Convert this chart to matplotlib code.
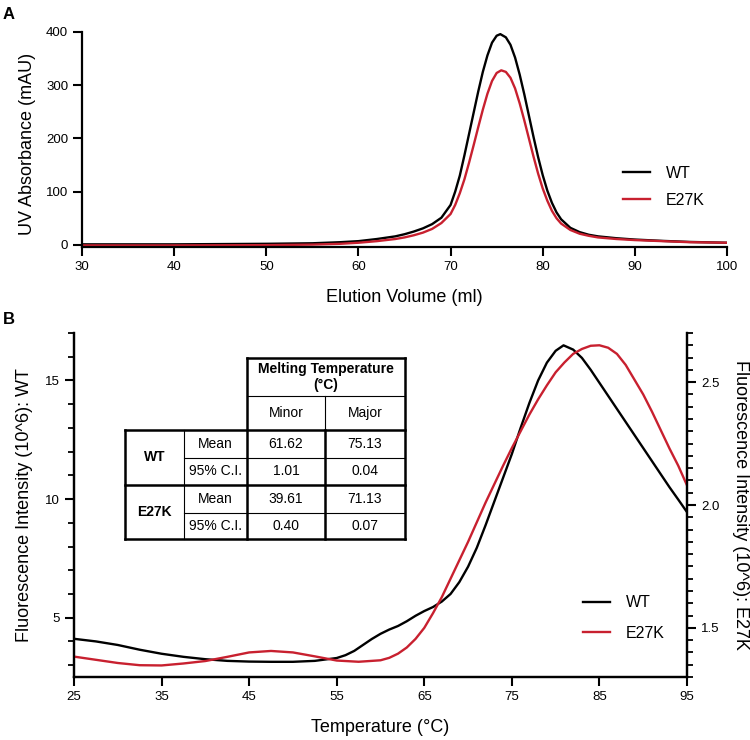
import matplotlib
matplotlib.use("Agg")
import matplotlib.pyplot as plt
from matplotlib.ticker import MultipleLocator, FormatStrFormatter
from matplotlib.lines import Line2D

plt.rcParams['font.family'] = ['Liberation Sans', 'DejaVu Sans']

BLACK = '#000000'
RED = '#c8202f'

# ---- panel A: size exclusion chromatogram ----
vol_wt = [30, 35, 40, 45, 50, 55, 58, 60, 62, 64, 65, 66, 67, 68, 69, 70, 70.5, 71, 71.5, 72, 72.5,
          73, 73.5, 74, 74.5, 75, 75.4, 76, 76.5, 77, 77.5, 78, 78.5, 79, 79.5, 80, 80.5, 81, 81.5,
          82, 83, 84, 85, 86, 88, 90, 93, 96, 100]
uv_wt = [1, 1, 1, 1.5, 2, 3, 5, 7, 11, 16, 20, 25, 31, 39, 51, 75, 100, 130, 168, 208, 248,
         288, 325, 356, 380, 393, 396, 390, 376, 352, 320, 283, 243, 203, 165, 131, 102, 79, 61,
         48, 32, 24, 19, 16, 12.5, 10, 7.5, 5.5, 4]

vol_e27k = [30, 40, 50, 55, 58, 60, 62, 64, 65, 66, 67, 68, 69, 70, 70.5, 71, 71.5, 72, 72.5,
            73, 73.5, 74, 74.5, 75, 75.5, 76, 76.5, 77, 77.5, 78, 78.5, 79, 79.5, 80, 80.5, 81, 81.5,
            82, 83, 84, 85, 86, 88, 90, 93, 96, 100]
uv_e27k = [-1, -1, -0.5, 0.5, 2, 4, 7, 11, 14, 18, 23, 30, 41, 58, 75, 97, 123, 154, 187,
           221, 254, 284, 308, 323, 328, 325, 314, 294, 266, 234, 200, 166, 134, 106, 83, 64, 50,
           40, 28, 21, 17, 14, 11, 9, 7, 5, 4]

# ---- panel B: thermal melt ----
temp_wt = [25, 27.5, 30, 32.5, 35, 37.5, 40, 42.5, 45, 47.5, 50, 52.5, 55, 56, 57, 58, 59, 60,
           61, 62, 63, 64, 65, 66, 67, 68, 69, 70, 71, 72, 73, 74, 75, 76, 77, 78, 79, 80, 80.9,
           82, 83, 84, 85, 86, 87, 88, 89, 90, 91, 92, 93, 94, 95]
fl_wt = [4.11, 4.0, 3.85, 3.65, 3.48, 3.35, 3.25, 3.18, 3.15, 3.14, 3.14, 3.18, 3.3, 3.42, 3.6,
         3.85, 4.1, 4.32, 4.5, 4.65, 4.85, 5.08, 5.28, 5.45, 5.68, 6.0, 6.5, 7.15, 7.95, 8.9,
         9.9, 10.9, 11.9, 13.0, 14.05, 15.0, 15.75, 16.25, 16.48, 16.3, 15.95, 15.45, 14.9,
         14.35, 13.8, 13.25, 12.7, 12.15, 11.6, 11.05, 10.5, 9.98, 9.45]

temp_e27k = [25, 27.5, 30, 32.5, 35, 37.5, 40, 42.5, 45, 47.5, 50, 52.5, 55, 57.5, 60, 61, 62, 63,
             64, 65, 66, 67, 68, 69, 70, 71, 72, 73, 74, 75, 76, 77, 78, 79, 80, 81, 82, 83, 84,
             85, 86, 87, 88, 89, 90, 91, 92, 93, 94, 95]
fl_e27k = [1.383, 1.37, 1.357, 1.348, 1.347, 1.355, 1.365, 1.382, 1.4, 1.406, 1.4, 1.384, 1.367,
           1.362, 1.368, 1.378, 1.395, 1.42, 1.455, 1.5, 1.56, 1.625, 1.7, 1.775, 1.85, 1.93,
           2.01, 2.085, 2.16, 2.232, 2.3, 2.368, 2.43, 2.487, 2.54, 2.58, 2.615, 2.635, 2.648,
           2.65, 2.64, 2.615, 2.57, 2.51, 2.45, 2.38, 2.305, 2.23, 2.16, 2.08]

# ---- melting temperature table ----
groups = ['WT', 'E27K']
stats = ['Mean', '95% C.I.']
tm_minor = [61.62, 1.01, 39.61, 0.40]
tm_major = [75.13, 0.04, 71.13, 0.07]

fig = plt.figure(figsize=(7.5, 7.4), dpi=100)

def style_axes(ax):
    for s in ax.spines.values():
        s.set_linewidth(1.6)
    ax.tick_params(which='major', length=6.5, width=1.5, labelsize=9.5, direction='out')
    ax.tick_params(which='minor', length=4, width=1.3, direction='out')

# ---- A ----
axA = fig.add_axes([82/750, 1-247/740, 645/750, 215/740])
axA.plot(vol_wt, uv_wt, color=BLACK, lw=1.7, label='WT')
axA.plot(vol_e27k, uv_e27k, color=RED, lw=1.7, label='E27K')
axA.set_xlim(30, 100)
axA.set_ylim(-4, 400)
axA.set_xticks(range(30, 101, 10))
axA.set_yticks(range(0, 401, 100))
axA.spines['top'].set_visible(False)
axA.spines['right'].set_visible(False)
style_axes(axA)
axA.set_xlabel('Elution Volume (ml)', fontsize=13)
axA.set_ylabel('UV Absorbance (mAU)', fontsize=13)
axA.xaxis.set_label_coords(0.5, -0.237)
axA.xaxis.label.set_va('center')
axA.yaxis.set_label_coords(-0.085, 0.48)
axA.yaxis.label.set_va('center')
fig.legend(handles=axA.get_lines(), loc='center left', bbox_to_anchor=(623/750, 1-187/740),
           bbox_transform=fig.transFigure, frameon=False, fontsize=11.5, handlelength=1.7,
           handletextpad=1.0, labelspacing=0.75, borderpad=0, borderaxespad=0)

# ---- B ----
axB = fig.add_axes([74/750, 1-677/740, 613/750, 344/740])
axB2 = axB.twinx()
axB.plot(temp_wt, fl_wt, color=BLACK, lw=1.7)
axB2.plot(temp_e27k, fl_e27k, color=RED, lw=1.7)
axB.set_xlim(25, 95)
axB.set_ylim(2.5, 17)
axB2.set_ylim(1.3, 2.7)
axB.set_xticks(range(25, 96, 10))
axB.set_yticks([5, 10, 15])
axB.yaxis.set_minor_locator(MultipleLocator(1))
axB2.set_yticks([1.5, 2.0, 2.5])
axB2.yaxis.set_major_formatter(FormatStrFormatter('%.1f'))
axB2.yaxis.set_minor_locator(MultipleLocator(0.05))
for a in (axB, axB2):
    a.spines['top'].set_visible(False)
    style_axes(a)
axB.set_xlabel('Temperature (°C)', fontsize=13)
axB.xaxis.set_label_coords(0.5, -0.148)
axB.xaxis.label.set_va('center')
axB.set_ylabel('Fluorescence Intensity (10^6): WT', fontsize=13)
axB.yaxis.set_label_coords(-0.08, 0.5)
axB.yaxis.label.set_va('center')
axB2.set_ylabel('Fluorescence Intensity (10^6): E27K', fontsize=13, rotation=270)
axB2.yaxis.set_label_coords(1.0865, 0.5)
axB2.yaxis.label.set_va('center')

handles = [Line2D([], [], color=BLACK, lw=1.7), Line2D([], [], color=RED, lw=1.7)]
fig.legend(handles, groups, loc='center left', bbox_to_anchor=(583/750, 1-618/740),
           bbox_transform=fig.transFigure, frameon=False, fontsize=11.5, handlelength=1.7,
           handletextpad=1.0, labelspacing=0.95, borderpad=0, borderaxespad=0)

# table drawn in its own little axes, pixel units
c0, c1, c2, c3, c4 = 125, 184, 247, 325, 405
r0, r1, r2, r3, r4, r5, r6 = 358, 396, 430, 458, 485, 513, 539
axT = fig.add_axes([c0/750, 1-r6/740, (c4-c0)/750, (r6-r0)/740])
axT.set_xlim(c0, c4)
axT.set_ylim(r6, r0)
axT.axis('off')
axT.patch.set_alpha(0)
thick, thin = 1.8, 0.8
seg = [
    ((c2, c4), (r0, r0), thick), ((c2, c2), (r0, r6), thick), ((c4, c4), (r0, r6), thick),
    ((c2, c4), (r1, r1), thin), ((c3, c3), (r1, r2), thin),
    ((c0, c4), (r2, r2), thick), ((c0, c4), (r6, r6), thick), ((c0, c0), (r2, r6), thick),
    ((c3, c3), (r2, r6), thick), ((c0, c4), (r4, r4), thick),
    ((c1, c1), (r2, r6), thin), ((c1, c4), (r3, r3), thin), ((c1, c4), (r5, r5), thin),
]
for xs, ys, w in seg:
    axT.plot(xs, ys, color=BLACK, lw=w, clip_on=False, solid_capstyle='projecting')

fs = 10
axT.text((c2+c4)/2, (r0+r1)/2, 'Melting Temperature\n(°C)', ha='center', va='center',
         fontsize=fs, fontweight='bold', linespacing=1.25)
axT.text((c2+c3)/2, (r1+r2)/2, 'Minor', ha='center', va='center', fontsize=fs)
axT.text((c3+c4)/2, (r1+r2)/2, 'Major', ha='center', va='center', fontsize=fs)
rows = [(r2, r3), (r3, r4), (r4, r5), (r5, r6)]
for gi, g in enumerate(groups):
    axT.text((c0+c1)/2, (rows[2*gi][0]+rows[2*gi+1][1])/2, g, ha='center', va='center',
             fontsize=fs, fontweight='bold')
for i, (ya, yb) in enumerate(rows):
    yc = (ya+yb)/2
    axT.text((c1+c2)/2, yc, stats[i % 2], ha='center', va='center', fontsize=fs)
    axT.text((c2+c3)/2, yc, f'{tm_minor[i]:.2f}', ha='center', va='center', fontsize=fs)
    axT.text((c3+c4)/2, yc, f'{tm_major[i]:.2f}', ha='center', va='center', fontsize=fs)

fig.text(0.004, 0.99, 'A', fontsize=12, fontweight='bold', va='top', ha='left')
fig.text(0.004, 1-320/740, 'B', fontsize=12, fontweight='bold', va='center', ha='left')

fig.savefig('out.png', dpi=100)
